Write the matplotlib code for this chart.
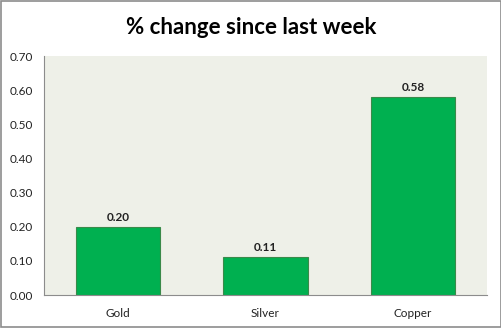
import matplotlib
matplotlib.use("Agg")
import matplotlib.pyplot as plt
from matplotlib.patches import Rectangle

categories = ["Gold", "Silver", "Copper"]
values = [0.20, 0.11, 0.58]
yticks = [0.0, 0.1, 0.2, 0.3, 0.4, 0.5, 0.6, 0.7]

plt.rcParams['font.family'] = ['Lato', 'DejaVu Sans']

fig = plt.figure(figsize=(5.02, 3.28), dpi=100)
fig.patch.set_facecolor('white')
fig.patches.append(Rectangle((0.002, 0.003), 0.996, 0.994, transform=fig.transFigure,
                             fill=False, edgecolor='#8c8c8c', linewidth=1.2))

ax = fig.add_axes([0.0876, 0.1006, 0.8824, 0.7284])
ax.set_facecolor('#eef0e8')
x = range(len(categories))
ax.bar(x, values, width=0.57, color='#00b050', edgecolor='#3a8a4a', linewidth=0.8)
for xi, v in zip(x, values):
    ax.text(xi, v + 0.012, f"{v:.2f}", ha='center', va='bottom', fontsize=8.5, fontweight='bold', color='#222222')

ax.set_xlim(-0.5, 2.5)
ax.set_ylim(0, 0.7)
ax.set_yticks(yticks)
ax.set_yticklabels([f"{t:.2f}" for t in yticks], fontsize=8.5, color='#222222')
ax.set_xticks(list(x))
ax.set_xticklabels(categories, fontsize=8.5, color='#222222')
ax.tick_params(axis='x', length=0, pad=9)
ax.tick_params(axis='y', length=0, pad=8)
for s in ['top', 'right']:
    ax.spines[s].set_visible(False)
ax.spines['left'].set_color('#8c8c8c')
ax.spines['bottom'].set_color('#8c8c8c')

fig.text(0.5, 0.915, "% change since last week", ha='center', va='center',
         fontsize=16, fontweight='bold', color='black')

fig.savefig("out.png", dpi=100)
